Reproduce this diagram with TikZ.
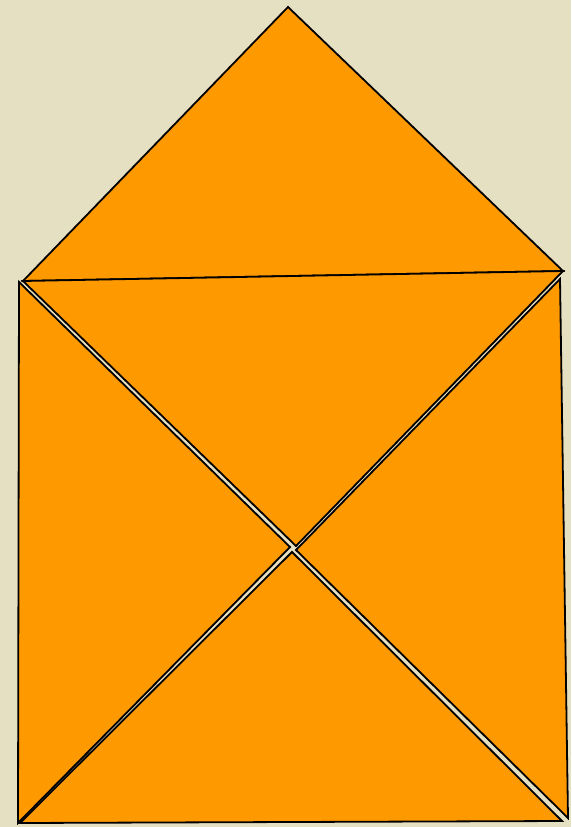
\documentclass[tikz,border=0pt]{standalone}
\definecolor{bg}{HTML}{E6E0C2}
\definecolor{env}{HTML}{FF9900}
\tikzset{tri/.style={fill=env,draw=black,line width=1.8pt,line join=miter}}
\begin{document}
\begin{tikzpicture}[x=1pt,y=-1pt]
\fill[bg] (0,0) rectangle (571,827);
\useasboundingbox (0,0) rectangle (571,827);
% top flap
\draw[tri] (288,7) -- (563,271) -- (23,281) -- cycle;
% inverted middle
\draw[tri] (23,281) -- (563,271) -- (296,546) -- cycle;
% left
\draw[tri] (19,282) -- (290,547) -- (18,823) -- cycle;
% right
\draw[tri] (560,279) -- (568,818) -- (296,550) -- cycle;
% bottom
\draw[tri] (20,823) -- (292,552) -- (562,821) -- cycle;
\end{tikzpicture}
\end{document}
